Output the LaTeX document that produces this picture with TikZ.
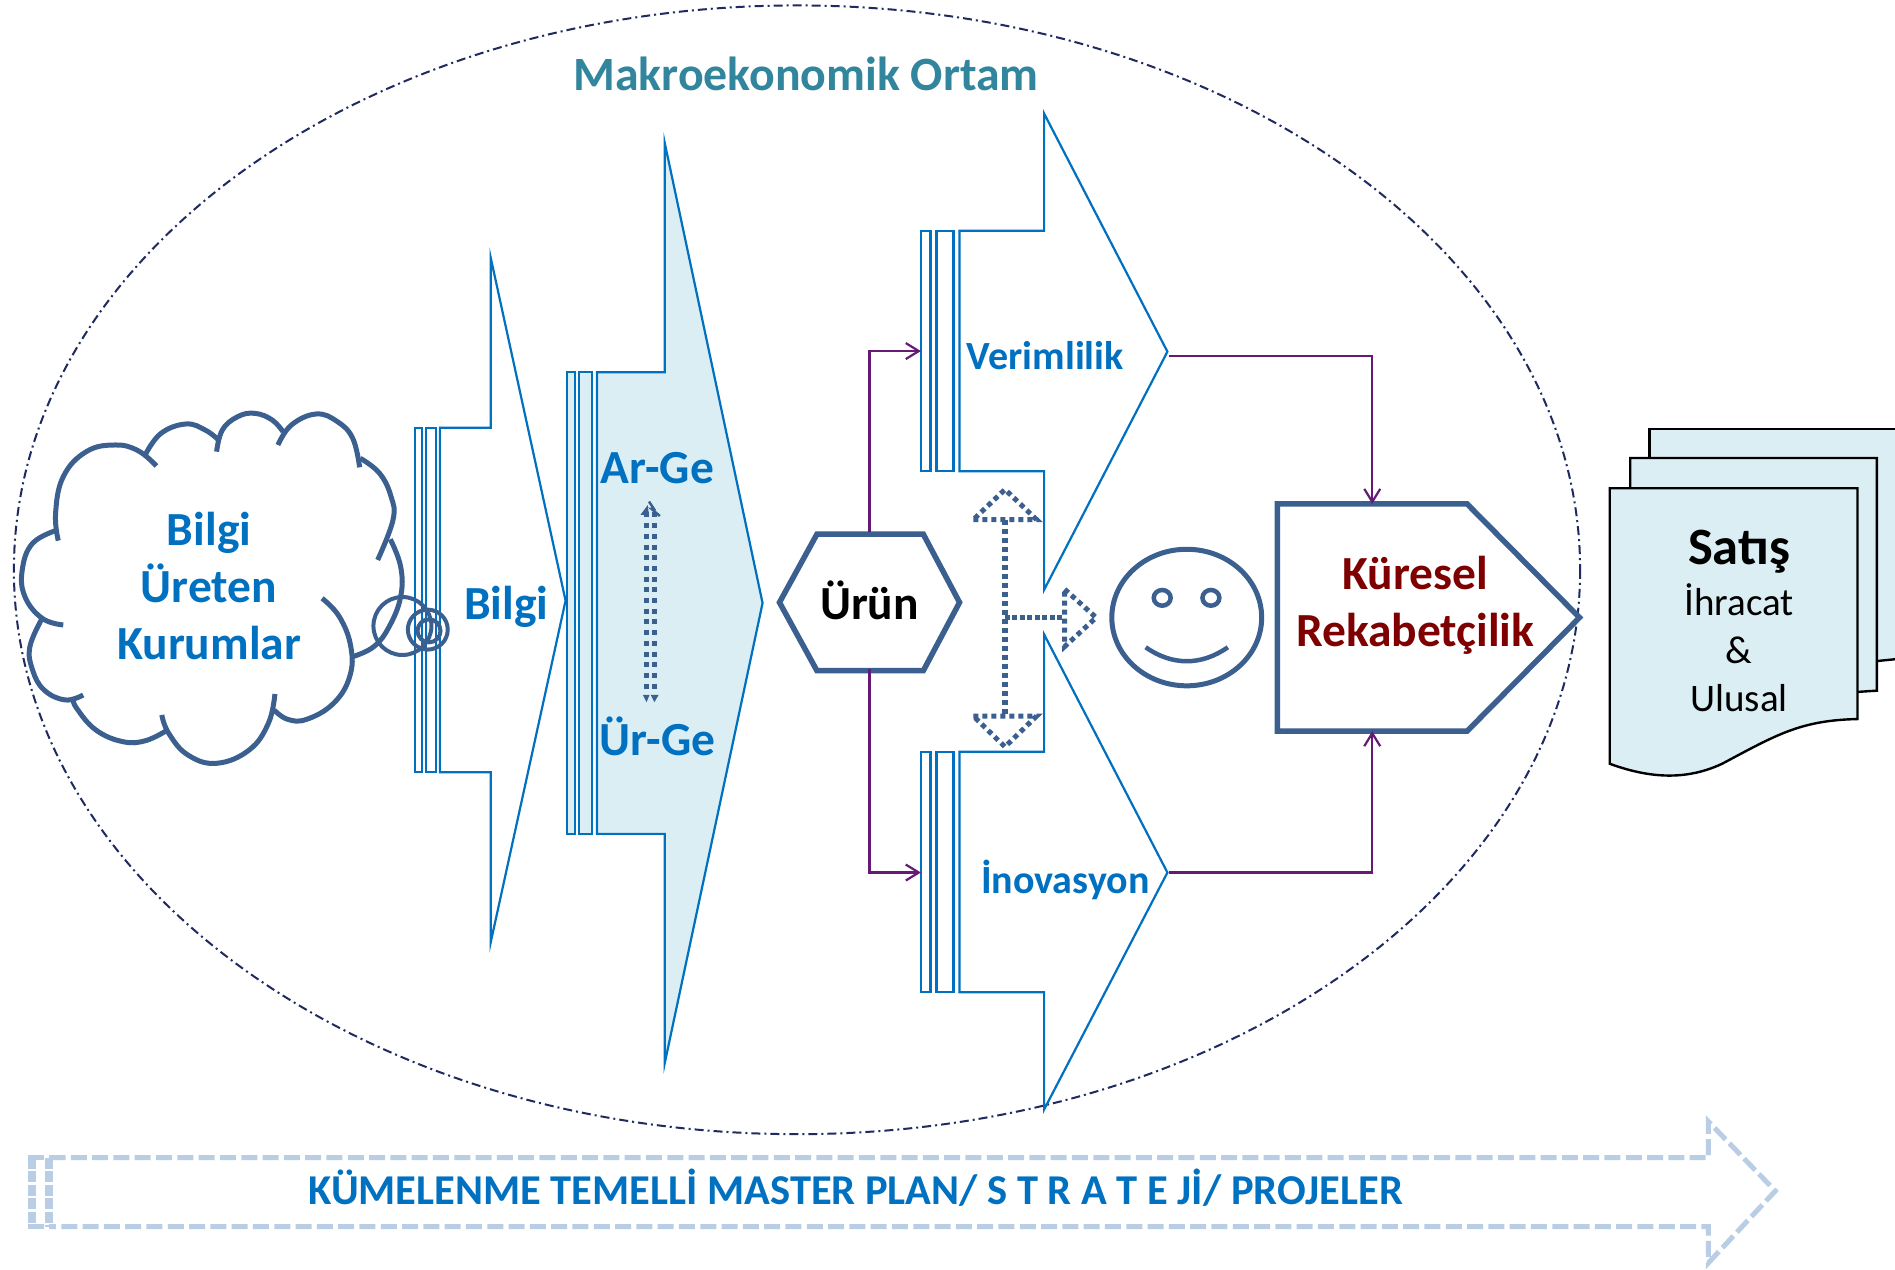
\documentclass[tikz,border=0pt]{standalone}
\usepackage{fontspec}
\setmainfont{Carlito}
\usetikzlibrary{arrows.meta,calc}
\definecolor{steel}{HTML}{3B6090}
\definecolor{bluetxt}{HTML}{0070C0}
\definecolor{teal}{HTML}{31859C}
\definecolor{pale}{HTML}{DAEEF3}
\definecolor{band}{HTML}{B9CDE5}
\definecolor{plum}{HTML}{661A75}
\definecolor{navy}{HTML}{1F2A60}
\definecolor{crimson}{HTML}{7F0000}
\def\uu{1.2085pt}
\tikzset{
  x=1.2085pt,y=-1.2085pt,
  hostbox/.style={rectangle,inner sep=0pt,outer sep=0pt,minimum width=#1},
  bluearrow/.style={draw=bluetxt,line width=2.2pt,fill=white,line join=miter},
  palearrow/.style={bluearrow,fill=pale},
  steelline/.style={draw=steel,line width=5.5pt,line join=miter},
  cloudarc/.style={draw=steel,line width=5pt},
  dotline/.style={draw=steel,line width=5pt,dash pattern=on 5pt off 4pt},
  purple/.style={draw=plum,line width=2.2pt,-{Straight Barb[length=13pt,width=16pt]}},
  docshape/.style={draw=black,line width=2.4pt,fill=pale,line join=miter},
  bandline/.style={draw=band,line width=5pt,dash pattern=on 16pt off 5.3pt},
  bigblue/.style={font=\fontsize{47.5}{57}\selectfont\bfseries,text=bluetxt,align=center,inner sep=0pt},
  midblue/.style={font=\fontsize{40}{48}\selectfont\bfseries,text=bluetxt,inner sep=0pt,anchor=base},
  satis/.style={font=\fontsize{39}{48}\selectfont,text=black,inner sep=0pt,anchor=base}
}
\begin{document}
\begin{tikzpicture}
\useasboundingbox (0,0) rectangle (1568.07,1050.9);
\fill[white] (0,0) rectangle (1568.07,1050.9);
% environment ellipse
\draw[navy,line width=2pt,dash pattern=on 9pt off 4pt on 2pt off 4pt] (659.5,471.5) ellipse [x radius=648,y radius=467];
\node[font=\fontsize{47.8}{58}\selectfont\bfseries,text=teal,inner sep=0pt,anchor=base] (makro) at (667,75) {Makroekonomik Ortam};
% cloud
\begin{scope}[x=0.3834pt,y=-0.3333pt,yshift=-380pt]
\foreach \arcpts in {
 {(152,482)(145,400)(165,290)(225,215)(300,195)(360,212)(408,258)},
 {(380,222)(420,160)(485,132)(535,150)(570,180)},
 {(565,215)(580,150)(620,110)(665,100)(710,120)(738,155)},
 {(725,195)(760,135)(825,102)(880,125)(920,175)(938,262)},
 {(940,235)(990,280)(1020,350)(1025,420)(985,540)},
 {(1018,478)(1045,560)(1045,650)(1015,740)(975,800)(920,830)},
 {(840,655)(885,710)(915,800)(912,890)(870,970)(800,1018)(750,1018)(715,990)},
 {(717,942)(700,1030)(650,1110)(565,1150)(490,1125)(440,1060)(422,1005)},
 {(437,1050)(380,1082)(320,1085)(250,1050)(200,985)(190,955)},
 {(217,945)(170,960)(115,930)(85,870)(78,800)(110,715)},
 {(165,735)(110,715)(65,650)(58,570)(85,490)(150,450)}}{
  \edef\tmp{\noexpand\draw[cloudarc] plot[smooth,tension=.7] coordinates {\arcpts};}\tmp
}
\end{scope}
\node[bigblue] (cloudtxt) at (173,484.5) {Bilgi\\Üreten\\Kurumlar};
% Bilgi arrow
\draw[bluearrow] (343.5,354) rectangle (349,639);
\draw[bluearrow] (352.5,354) rectangle (361,639);
\draw[bluearrow] (364,354) -- (406,354) -- (406,213) -- (468,497) -- (406,780) -- (406,639) -- (364,639) -- cycle;
\node[bigblue,anchor=base] (bilgi) at (419,513) {Bilgi};
% bubbles
\draw[steel,line width=4pt] (333,518) circle [radius=24];
\draw[steel,line width=4pt] (354,521) circle [radius=16.5];
\draw[steel,line width=4pt] (355,522) circle [radius=9.5];
% Ar-Ge arrow
\draw[palearrow] (469,308) rectangle (476,690);
\draw[palearrow] (479,308) rectangle (490,690);
\draw[palearrow] (494,308) -- (550,308) -- (550,118) -- (631,499) -- (550,880) -- (550,690) -- (494,690) -- cycle;
\node[bigblue,anchor=base] (arge) at (544,400) {Ar-Ge};
\node[bigblue,anchor=base] (urge) at (544,625) {Ür-Ge};
\coordinate (dblT) at (538,424);
\coordinate (dblB) at (538,574);
\draw[steel,line width=5pt,dash pattern=on 5pt off 5.7pt] ($(dblT)+(-3.2,0)$) -- ($(dblB)+(-3.2,0)$);
\draw[steel,line width=5pt,dash pattern=on 5pt off 5.7pt] ($(dblT)+(3.2,0)$) -- ($(dblB)+(3.2,0)$);
\fill[steel] (530,426) -- (536,418) -- (537,426) -- cycle;
\draw[steel,line width=2.5pt] (537,415) -- (541,421) -- (539,421) -- (546,427);
\fill[steel] (532,575) -- (535,581) -- (537.5,575) -- cycle (538.5,575) -- (541.5,581) -- (545,575) -- cycle;
% Verimlilik / Inovasyon arrows
\node[hostbox=205*\uu,minimum height=399*\uu] (verim) at (864.5,290.5) {};
\node[hostbox=205*\uu,minimum height=398*\uu] (inov) at (864.5,722) {};
\draw[bluearrow] (762,191) rectangle (770,390);
\draw[bluearrow] (775,191) rectangle (789,390);
\draw[bluearrow] (794,191) -- (864,191) -- (864,94) -- (966,291) -- (864,488) -- (864,390) -- (794,390) -- cycle;
\draw[bluearrow] (762,622) rectangle (770,821);
\draw[bluearrow] (775,622) rectangle (789,821);
\draw[bluearrow] (794,622) -- (864,622) -- (864,525) -- (966,722) -- (864,918) -- (864,821) -- (794,821) -- cycle;
\node[midblue] (verimtxt) at (865,306) {Verimlilik};
\node[midblue] (inovtxt) at (881.5,739) {İnovasyon};
% Urun hexagon
\node[hostbox=151*\uu,minimum height=113*\uu,font=\fontsize{47.5}{58}\selectfont\bfseries,text=black] (urun) at (719.5,497) {Ürün};
\draw[steelline] (645,498.5) -- (676,442) -- (764,442) -- (794,498.5) -- (764,555) -- (676,555) -- cycle;
% T-shaped dotted arrow
\coordinate (tTop) at (831.6,430);
\coordinate (tBot) at (831.6,592.5);
\coordinate (tMid) at (831.6,511);
\coordinate (tEnd) at (881,511);
\draw[dotline,line width=5.5pt] (tTop) -- (tBot);
\draw[dotline,line width=5.5pt,dash pattern=on 5pt off 2.5pt] (tMid) -- (tEnd);
\draw[dotline] (805.4,430) -- (857.8,430) -- (831.6,405) -- cycle;
\draw[dotline] (805.4,592.5) -- (857.8,592.5) -- (831.6,618) -- cycle;
\draw[dotline] (881,487.6) -- (907,511) -- (881,535) -- cycle;
% smiley
\draw[steel,line width=5pt] (982,511) ellipse [x radius=62,y radius=56.5];
\draw[steel,line width=4.5pt] (961.7,494.7) ellipse [x radius=7,y radius=6.5];
\draw[steel,line width=4.5pt] (1002,494.7) ellipse [x radius=7,y radius=6.5];
\draw[steel,line width=4.5pt] (948,535.6) .. controls (970,551) and (994,551) .. (1016,535.6);
% Kuresel
\node[hostbox=157*\uu,minimum height=188*\uu] (kuresel) at (1135.5,511) {};
\draw[steelline,fill=white] (1057,417) -- (1214,417) -- (1307,511) -- (1214,605) -- (1057,605) -- cycle;
\node[font=\fontsize{47.5}{57}\selectfont\bfseries,text=crimson,align=center,inner sep=0pt] (kurtxt) at (1171,501) {Küresel\\Rekabetçilik};
% connectors
\draw[purple] (urun.north) ++(0,0) |- (verim.west);
\draw[purple] (urun.south) ++(0,0) |- (inov.west);
\draw[purple] ([yshift=-4.8pt]verim.east) -| (kuresel.north);
\draw[purple] (inov.east) -| (kuresel.south);
% documents
\fill[pale] (1365,355) -- (1568.07,355) -- (1568.07,545) -- (1500,550) -- (1365,550) -- cycle;
\draw[black,line width=2.4pt] (1365,400) -- (1365,355) -- (1568.07,355);
\draw[black,line width=2.4pt] (1553,547) -- (1568.07,545.5);
\draw[docshape] (1349,420) -- (1349,379) -- (1553,379) -- (1553,571.5) -- (1530,573) -- (1530,420) -- cycle;
\draw[docshape] (1332,404) -- (1537,404) -- (1537,595) .. controls (1490,596) and (1470,608) .. (1425,632) .. controls (1395,646) and (1365,644) .. (1332,632) -- cycle;
\node[satis,font=\fontsize{52.5}{58}\selectfont\bfseries] (satistxt) at (1439,467) {Satış};
\node[satis] (ihr) at (1439,509) {İhracat};
\node[satis] (amp) at (1439,549) {\&};
\node[satis] (ulu) at (1439,589) {Ulusal};
% bottom band arrow
\coordinate (stA) at (26.5,958);
\coordinate (stB) at (40.5,958);
\coordinate (stC) at (26.5,1015);
\coordinate (stD) at (40.5,1015);
\draw[band,line width=8pt,dash pattern=on 11pt off 2.5pt] (stA) -- (stC);
\draw[band,line width=8pt,dash pattern=on 11pt off 2.5pt] (stB) -- (stD);
\draw[bandline] (23,958) -- (41,958);
\draw[bandline] (23,1015) -- (41,1015);
\draw[bandline] (41,958) -- (1413.6,958) -- (1413.6,928) -- (1469,985.5) -- (1413.6,1045) -- (1413.6,1015) -- (41,1015);
\node[font=\fontsize{42.5}{48}\selectfont\bfseries,text=bluetxt,inner sep=0pt,anchor=base] (band) at (708,997) {KÜMELENME TEMELLİ MASTER PLAN/ S T R A T E Jİ/ PROJELER};
\end{tikzpicture}
\end{document}
